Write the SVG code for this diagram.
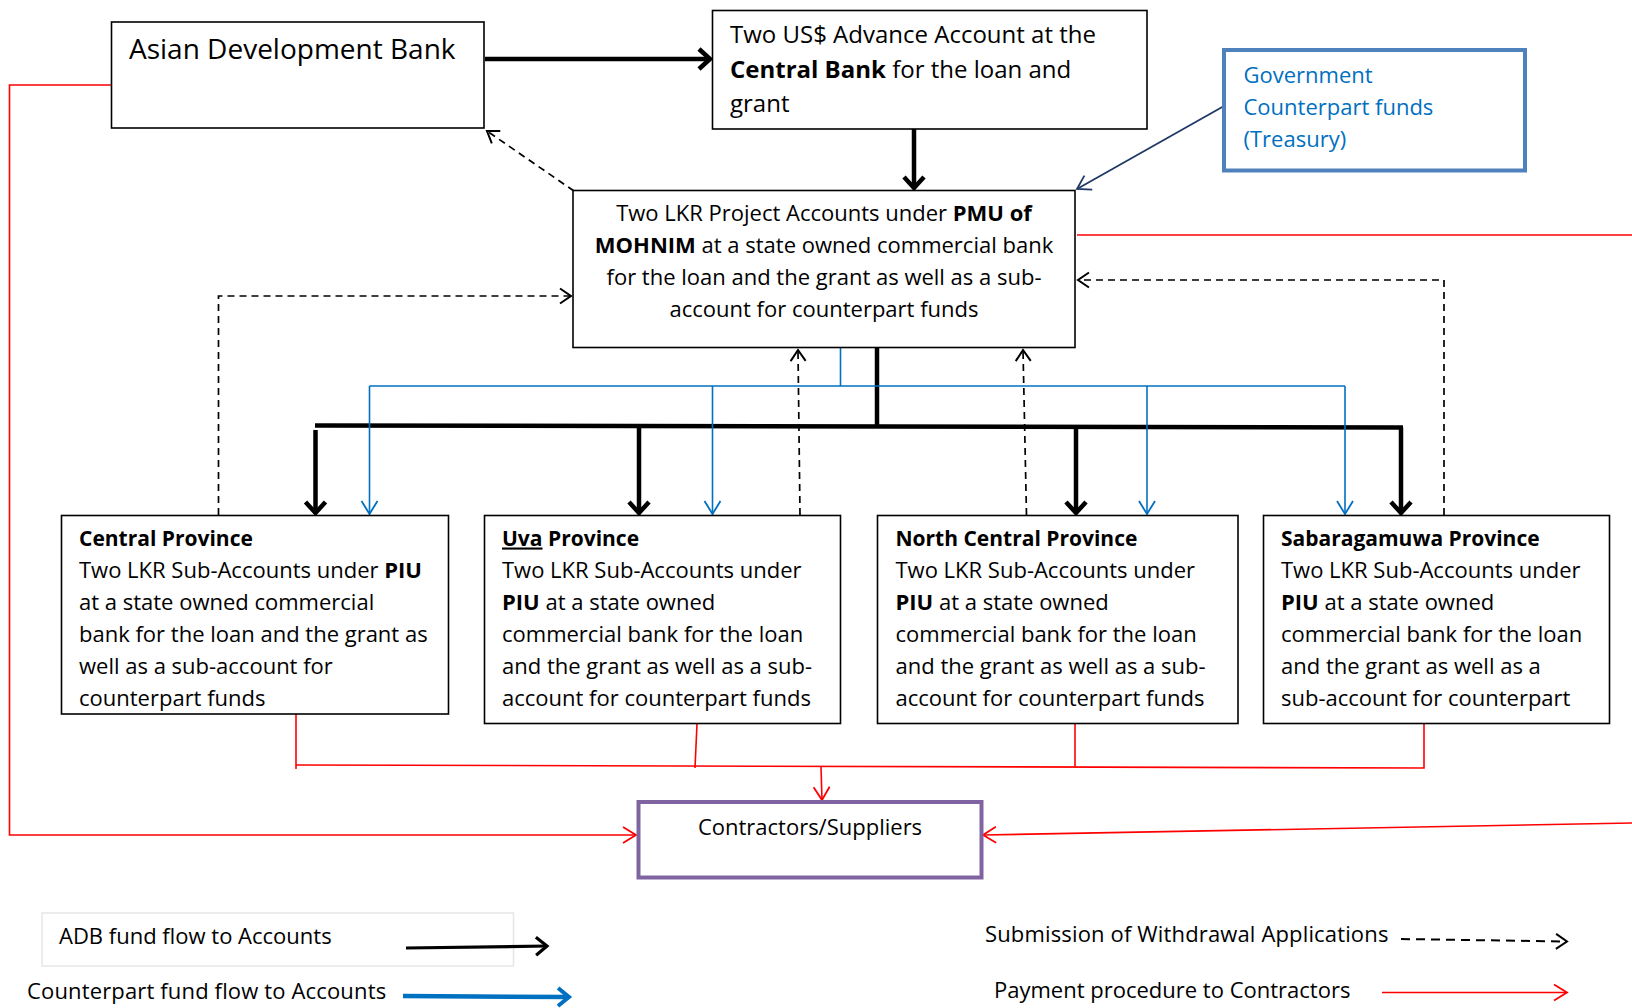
<svg xmlns="http://www.w3.org/2000/svg" width="1632" height="1008" viewBox="0 0 1632 1008">
<style>
text{font-family:"Open Sans","Liberation Sans",sans-serif;fill:#000}
.b{font-weight:bold}
.box{fill:#fff;stroke:#000;stroke-width:1.6}
.t22{font-size:22px}
.h21{font-size:21px;font-weight:bold}
.thick{stroke:#000;stroke-width:4.5;fill:none}
.blue{stroke:#0070C0;stroke-width:1.6;fill:none}
.red{stroke:#FF0000;stroke-width:1.6;fill:none}
.dash{stroke:#000;stroke-width:1.7;fill:none;stroke-dasharray:7 5}
</style>
<defs>
<marker id="mThick" markerUnits="userSpaceOnUse" viewBox="-16 -14 20 28" markerWidth="20" markerHeight="28" refX="0" refY="0" orient="auto" overflow="visible">
<path d="M-11,-10 L0,0 L-11,10" fill="none" stroke="#000" stroke-width="4.5"/>
</marker>
<marker id="mDash" markerUnits="userSpaceOnUse" viewBox="-14 -10 18 20" markerWidth="18" markerHeight="20" refX="0" refY="0" orient="auto" overflow="visible">
<path d="M-11,-7.5 L0,0 L-11,7.5" fill="none" stroke="#000" stroke-width="2"/>
</marker>
<marker id="mBlue" markerUnits="userSpaceOnUse" viewBox="-16 -12 20 24" markerWidth="20" markerHeight="24" refX="0" refY="0" orient="auto" overflow="visible">
<path d="M-13,-8 L0,0 L-13,8" fill="none" stroke="#0070C0" stroke-width="1.8"/>
</marker>
<marker id="mRed" markerUnits="userSpaceOnUse" viewBox="-16 -12 20 24" markerWidth="20" markerHeight="24" refX="0" refY="0" orient="auto" overflow="visible">
<path d="M-13,-8 L0,0 L-13,8" fill="none" stroke="#FF0000" stroke-width="1.8"/>
</marker>
<marker id="mNavy" markerUnits="userSpaceOnUse" viewBox="-16 -12 20 24" markerWidth="20" markerHeight="24" refX="0" refY="0" orient="auto" overflow="visible">
<path d="M-13,-8 L0,0 L-13,8" fill="none" stroke="#1F3864" stroke-width="1.8"/>
</marker>
<marker id="mLegBlack" markerUnits="userSpaceOnUse" viewBox="-16 -12 20 24" markerWidth="20" markerHeight="24" refX="0" refY="0" orient="auto" overflow="visible">
<path d="M-11,-9 L0,0 L-11,9" fill="none" stroke="#000" stroke-width="3.2"/>
</marker>
<marker id="mLegBlue" markerUnits="userSpaceOnUse" viewBox="-16 -12 20 24" markerWidth="20" markerHeight="24" refX="0" refY="0" orient="auto" overflow="visible">
<path d="M-11,-9 L0,0 L-11,9" fill="none" stroke="#0070C0" stroke-width="4"/>
</marker>
</defs>
<rect width="1632" height="1008" fill="#fff"/>

<g id="connectors">
<line class="thick" x1="485" y1="59" x2="710" y2="59" marker-end="url(#mThick)"/>
<line class="thick" x1="914" y1="129" x2="914" y2="188" marker-end="url(#mThick)"/>
<line x1="1224" y1="106" x2="1077" y2="189" stroke="#1F3864" stroke-width="1.8" marker-end="url(#mNavy)"/>
<line class="dash" x1="574" y1="191" x2="487" y2="131" marker-end="url(#mDash)"/>
<line class="red" x1="1077" y1="235" x2="1632" y2="235"/>
<line class="red" x1="1632" y1="823" x2="983" y2="835" marker-end="url(#mRed)"/>
<polyline class="red" points="111,85 9.5,85 9.5,835 636,835" marker-end="url(#mRed)"/>
<line class="red" x1="296" y1="714" x2="296" y2="769"/>
<line class="red" x1="697" y1="724" x2="695" y2="768"/>
<line class="red" x1="1075" y1="724" x2="1075" y2="767"/>
<polyline class="red" points="1424,724 1424,768 296,765"/>
<line class="red" x1="821" y1="767" x2="822" y2="800" marker-end="url(#mRed)"/>
<line class="thick" x1="877" y1="348" x2="877" y2="427"/>
<line class="thick" x1="315" y1="425.5" x2="1403" y2="427.5"/>
<line class="thick" x1="315.5" y1="430" x2="315.5" y2="513" marker-end="url(#mThick)"/>
<line class="thick" x1="639" y1="426" x2="639" y2="513" marker-end="url(#mThick)"/>
<line class="thick" x1="1076" y1="427" x2="1076" y2="513" marker-end="url(#mThick)"/>
<line class="thick" x1="1401" y1="427.5" x2="1401" y2="513" marker-end="url(#mThick)"/>
<line class="blue" x1="840.5" y1="348" x2="840.5" y2="386"/>
<line class="blue" x1="369.5" y1="386" x2="1345" y2="386"/>
<line class="blue" x1="369.5" y1="386" x2="369.5" y2="514" marker-end="url(#mBlue)"/>
<line class="blue" x1="712.5" y1="386" x2="712.5" y2="514" marker-end="url(#mBlue)"/>
<line class="blue" x1="1147" y1="386" x2="1147" y2="514" marker-end="url(#mBlue)"/>
<line class="blue" x1="1345" y1="386" x2="1345" y2="514" marker-end="url(#mBlue)"/>
<polyline class="dash" points="218.5,515 218.5,296 571,296" marker-end="url(#mDash)"/>
<line class="dash" x1="800" y1="515" x2="798" y2="350" marker-end="url(#mDash)"/>
<line class="dash" x1="1026.5" y1="515" x2="1023" y2="350" marker-end="url(#mDash)"/>
<polyline class="dash" points="1444,515 1444,280 1078,280" marker-end="url(#mDash)"/>
</g>

<g id="adb">
<rect class="box" x="111.5" y="22" width="372.5" height="106"/>
<text x="129" y="59" style="font-size:28px">Asian Development Bank</text>
</g>

<g id="advance-account">
<rect class="box" x="712.5" y="10.5" width="434.5" height="118.5"/>
<text x="730" y="43" style="font-size:24px">Two US$ Advance Account at the</text>
<text x="730" y="78" style="font-size:24px"><tspan class="b">Central Bank</tspan> for the loan and</text>
<text x="730" y="112" style="font-size:24px">grant</text>
</g>

<g id="government">
<rect x="1224" y="50" width="301" height="120.5" fill="#fff" stroke="#4F81BD" stroke-width="4"/>
<text x="1243.5" y="83" style="font-size:22px;fill:#0070C0">Government</text>
<text x="1243.5" y="115" style="font-size:22px;fill:#0070C0">Counterpart funds</text>
<text x="1243.5" y="146.5" style="font-size:22px;fill:#0070C0">(Treasury)</text>
</g>

<g id="pmu">
<rect class="box" x="573" y="190.5" width="502" height="157"/>
<g class="t22" text-anchor="middle">
<text x="824" y="221">Two LKR Project Accounts under <tspan class="b">PMU of</tspan></text>
<text x="824" y="253"><tspan class="b">MOHNIM</tspan> at a state owned commercial bank</text>
<text x="824" y="285">for the loan and the grant as well as a sub-</text>
<text x="824" y="316.5">account for counterpart funds</text>
</g>
</g>

<g id="central" class="t22">
<rect class="box" x="61.5" y="515.5" width="387" height="198.5"/>
<text x="79" y="545.5" class="h21">Central Province</text>
<text x="79" y="577.5">Two LKR Sub-Accounts under <tspan class="b">PIU</tspan></text>
<text x="79" y="609.5">at a state owned commercial</text>
<text x="79" y="641.5">bank for the loan and the grant as</text>
<text x="79" y="673.5">well as a sub-account for</text>
<text x="79" y="705.5">counterpart funds</text>
</g>

<g id="uva" class="t22">
<rect class="box" x="484.5" y="515.5" width="356" height="208"/>
<text x="502" y="545.5" class="h21"><tspan text-decoration="underline">Uva</tspan> Province</text>
<text x="502" y="577.5">Two LKR Sub-Accounts under</text>
<text x="502" y="609.5"><tspan class="b">PIU</tspan> at a state owned</text>
<text x="502" y="641.5">commercial bank for the loan</text>
<text x="502" y="673.5">and the grant as well as a sub-</text>
<text x="502" y="705.5">account for counterpart funds</text>
</g>

<g id="north-central" class="t22">
<rect class="box" x="877.5" y="515.5" width="360.5" height="208"/>
<text x="895.5" y="545.5" class="h21">North Central Province</text>
<text x="895.5" y="577.5">Two LKR Sub-Accounts under</text>
<text x="895.5" y="609.5"><tspan class="b">PIU</tspan> at a state owned</text>
<text x="895.5" y="641.5">commercial bank for the loan</text>
<text x="895.5" y="673.5">and the grant as well as a sub-</text>
<text x="895.5" y="705.5">account for counterpart funds</text>
</g>

<g id="sabaragamuwa" class="t22">
<rect class="box" x="1263.5" y="515.5" width="346" height="208"/>
<text x="1281" y="545.5" class="h21">Sabaragamuwa Province</text>
<text x="1281" y="577.5">Two LKR Sub-Accounts under</text>
<text x="1281" y="609.5"><tspan class="b">PIU</tspan> at a state owned</text>
<text x="1281" y="641.5">commercial bank for the loan</text>
<text x="1281" y="673.5">and the grant as well as a</text>
<text x="1281" y="705.5">sub-account for counterpart</text>
</g>

<g id="contractors">
<rect x="638.5" y="802" width="343" height="75.5" fill="#fff" stroke="#8064A2" stroke-width="4"/>
<text x="810" y="835" class="t22" text-anchor="middle">Contractors/Suppliers</text>
</g>

<g id="legend">
<rect x="42" y="913" width="471.5" height="53" fill="none" stroke="#e6e6e6" stroke-width="1.5"/>
<text x="59" y="944" class="t22">ADB fund flow to Accounts</text>
<line x1="406" y1="948" x2="547" y2="946" stroke="#000" stroke-width="3.2" marker-end="url(#mLegBlack)"/>
<text x="27" y="999" class="t22" style="letter-spacing:0.15px">Counterpart fund flow to Accounts</text>
<line x1="403" y1="996" x2="569" y2="997" stroke="#0070C0" stroke-width="4.5" marker-end="url(#mLegBlue)"/>
<text x="985" y="942" class="t22" style="letter-spacing:0.15px">Submission of Withdrawal Applications</text>
<line x1="1401" y1="939" x2="1567" y2="941.5" stroke="#000" stroke-width="2" stroke-dasharray="9 6" marker-end="url(#mDash)"/>
<text x="994" y="998" class="t22">Payment procedure to Contractors</text>
<line class="red" x1="1382" y1="992.5" x2="1567" y2="992.5" marker-end="url(#mRed)"/>
</g>
</svg>
